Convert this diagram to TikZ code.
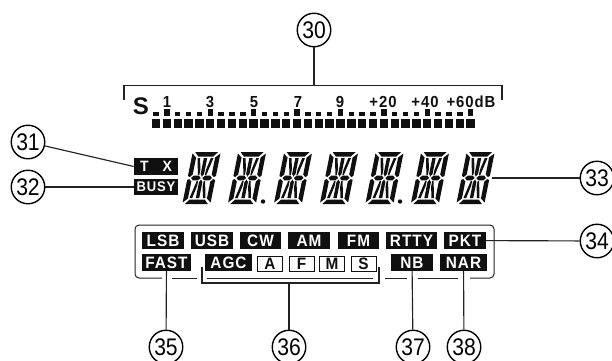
\documentclass[tikz,border=0pt]{standalone}
\usepackage{fontspec}
\setmainfont{Liberation Sans}
\newfontfamily\tagfont[LetterSpace=6,FakeStretch=.93]{Liberation Sans}
\newfontfamily\calloutfont[FakeStretch=.88]{Liberation Sans}
\usetikzlibrary{arrows.meta, positioning}
\definecolor{lcdink}{HTML}{101010}
\definecolor{leadgray}{HTML}{222222}
\tikzset{
  callout/.style={draw=black, line width=1.4pt, circle, minimum size=33.5pt, inner sep=0pt, font=\fontsize{24}{24}\calloutfont},
  lead/.style={draw=leadgray, line width=1.15pt},
  tag/.style={fill=lcdink, text=white, inner sep=0pt, minimum height=17pt, font=\fontsize{16.5}{16.5}\tagfont\bfseries},
  agctag/.style={draw=lcdink, line width=1pt, text=lcdink, inner sep=0pt, minimum width=25pt, minimum height=15pt, font=\fontsize{16.5}{16.5}\tagfont\bfseries},
  scalelbl/.style={inner sep=0pt, text=lcdink, font=\fontsize{16}{16}\tagfont\bfseries},
  lcdchar/.pic={
    \begin{scope}[xslant=.2]
    \foreach \sx/\sy in {1/1,-1/1,1/-1,-1/-1} {
      \begin{scope}[xscale=\sx, yscale=\sy]
      \fill[lcdink] (-11.5,-26) -- (.2,-26) -- (.2,-21.5) -- (-7.5,-21.5) -- cycle;
      \fill[lcdink] (-14,-24.5) -- (-9.5,-20.5) -- (-9.5,-3.5) -- (-12,-1) -- (-14,-2) -- cycle;
      \fill[lcdink] (-1.7,-20) -- (.2,-20) -- (.2,-1.5) -- (-1.7,-4) -- cycle;
      \fill[lcdink] (-8,-20) -- (-5.3,-20) -- (-2.8,-8) -- (-2.8,-3) -- (-4.2,-3) -- cycle;
      \fill[lcdink] (-10.5,.2) -- (-8.3,-2.4) -- (-3,-2.4) -- (-.8,.2) -- cycle;
      \end{scope}
    }
    \end{scope}
  }
}
\begin{document}
\begin{tikzpicture}[x=1pt, y=-1pt]
\path[clip, use as bounding box] (0,0) rectangle (612,360);
% callouts
\node[callout] (c30) at (314,30)  {30};
\node[callout] (c31) at (28,142)  {31};
\node[callout] (c32) at (28,187)  {32};
\node[callout] (c33) at (597,178) {33};
\node[callout] (c34) at (597,241) {34};
\node[callout] (c35) at (166,347) {35};
\node[callout] (c36) at (289,347) {36};
\node[callout] (c37) at (413,347) {37};
\node[callout] (c38) at (464,347) {38};
% S meter
\draw[lead] (124,100) -- (124,85.5) -- (502,85.5) -- (502,100);
\coordinate (sbar) at (314,85.5);
\draw[lead] (c30) -- (sbar);
\node[inner sep=0pt, text=lcdink, font=\fontsize{24}{24}\selectfont\bfseries] (sname) at (141,106) {S};
\foreach \lbl/\xc/\txt in {s1/167/1, s3/210/3, s5/254/5, s7/298/7, s9/340/9, s20/383/+20, s40/425/+40, s60/471/+60dB}
  \node[scalelbl] (\lbl) at (\xc,102) {\txt};
\foreach \i in {0,...,29} {
  \fill[lcdink] ({156+10.85*\i-4.2},119) rectangle ({156+10.85*\i+4.2},127.5);
  \fill[lcdink] ({156+10.85*\i-2.7},111.5) rectangle ({156+10.85*\i+2.7},115.5);
}
\foreach \i in {1,5,...,29}
  \fill[lcdink] ({156+10.85*\i-2.7},108.5) rectangle ({156+10.85*\i+2.7},115.5);
% frequency digits
\foreach \xc in {201.5,247,293,339,384.5,430,475.5}
  \pic at (\xc,178) {lcdchar};
\fill[lcdink] (263,201.5) circle (2.2);
\fill[lcdink] (400,201.5) circle (2.2);
\coordinate (freq) at (492,178);
\draw[lead] (freq) -- (c33);
% tx and busy
\node[tag, minimum width=44pt, font=\fontsize{15}{15}\tagfont\bfseries] (tx) at (156,166.5) {T\hspace{14pt}X};
\node[tag, minimum width=44pt, minimum height=16pt, font=\fontsize{14}{14}\tagfont\bfseries] (busy) at (156,187) {BUSY};
\draw[lead] (c31) -- (tx.west);
\draw[lead] (c32) -- (busy);
% mode panel
\draw[lead, line width=1pt, rounded corners=4pt] (162,278) -- (135,278) -- (135,225) -- (494,225) -- (494,278) -- (470,278);
\foreach \xa/\xb in {172/197, 207/373, 385/407, 418/458}
  \draw[lead, line width=1pt] (\xa,278) -- (\xb,278);
\foreach \lbl/\xc/\w/\txt in {lsb/163/42/LSB, usb/212/42/USB, cw/260.5/41/CW, am/309/42/AM, fm/358.5/41/FM, rtty/411.5/51/RTTY, pkt/465/42/PKT}
  \node[tag, minimum width=\w pt] (\lbl) at (\xc,240.5) {\txt};
\foreach \lbl/\xc/\w/\txt in {fast/166.5/49/FAST, agc/228.5/47/AGC, nb/412/42/NB, nar/463.5/47/NAR}
  \node[tag, minimum width=\w pt] (\lbl) at (\xc,262.5) {\txt};
\foreach \lbl/\xc/\txt in {afa/270/A, aff/301.5/F, afm/332/M, afs/363.5/S}
  \node[agctag] (\lbl) at (\xc,263.5) {\txt};
\draw[lead] (202,267) -- (202,283) -- (379,283) -- (379,267);
\coordinate (agcbar) at (289,283);
\draw[lead] (pkt) -- (c34);
\draw[lead] (fast) -- (c35);
\draw[lead] (agcbar) -- (c36);
\draw[lead] (nb) -- (c37);
\draw[lead] (nar) -- (c38);
\end{tikzpicture}
\end{document}
